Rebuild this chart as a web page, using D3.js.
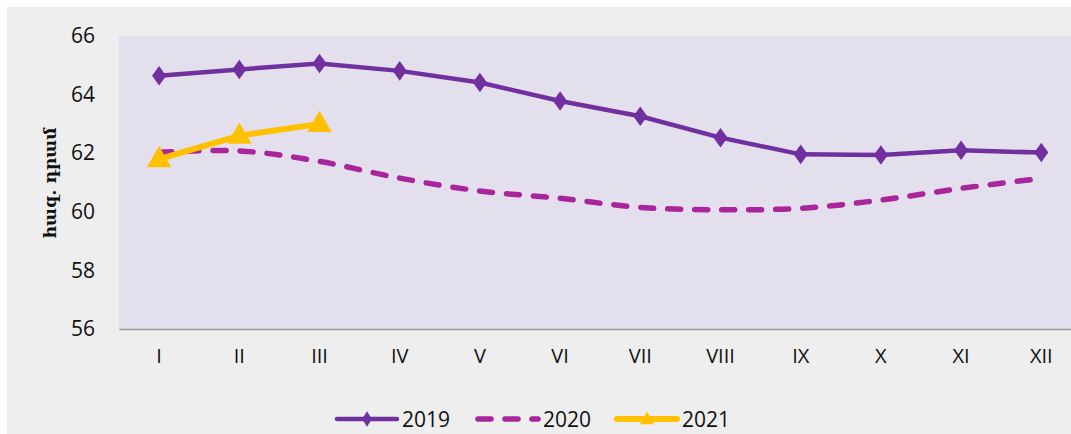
<!DOCTYPE html>
<html>
<head>
<meta charset="utf-8">
<script src="https://cdn.jsdelivr.net/npm/d3@7"></script>
<style>
  body { margin: 0; background: #ffffff; }
  svg text { font-family: "Open Sans", sans-serif; fill: #111; }
</style>
</head>
<body>
<div id="chart"></div>
<script>
// months (roman numerals) and values, thousand AMD
var months = ["I", "II", "III", "IV", "V", "VI", "VII", "VIII", "IX", "X", "XI", "XII"];
var values2019 = [64.64, 64.86, 65.06, 64.81, 64.41, 63.78, 63.26, 62.53, 61.96, 61.94, 62.1, 62.02];
var values2020 = [62.03, 62.08, 61.72, 61.15, 60.71, 60.46, 60.15, 60.07, 60.12, 60.4, 60.8, 61.14];
var values2021 = [61.8, 62.6, 63.0];
var yTicks = [56, 58, 60, 62, 64, 66];
var seriesNames = ["2019", "2020", "2021"];

var width = 1071, height = 434;
var svg = d3.select("#chart").append("svg")
    .attr("width", width)
    .attr("height", height);

// outer chart area
svg.append("rect")
    .attr("x", 7).attr("y", 7)
    .attr("width", width - 7).attr("height", height - 7)
    .attr("fill", "#eeeeee");

var plotLeft = 119, plotTop = 36, plotBottom = 329;
var plotRight = plotLeft + 12 * 80.2;

var x = d3.scaleBand().domain(months).range([plotLeft, plotRight]);
var y = d3.scaleLinear().domain([56, 66]).range([plotBottom, plotTop]);
function cx(m) { return x(m) + x.bandwidth() / 2; }

// plot area
svg.append("rect")
    .attr("x", plotLeft).attr("y", plotTop)
    .attr("width", plotRight - plotLeft).attr("height", plotBottom - plotTop)
    .attr("fill", "#e4dfec");

// y axis labels
var yAxis = svg.append("g")
    .attr("transform", "translate(" + plotLeft + ",0)")
    .call(d3.axisLeft(y).tickValues(yTicks).tickSize(0).tickPadding(24));
yAxis.select(".domain").remove();
yAxis.selectAll("text").style("font-size", "21px").style("font-family", "'Open Sans', sans-serif").attr("fill", "#111");

// x axis
var xAxis = svg.append("g")
    .attr("transform", "translate(0," + plotBottom + ")")
    .call(d3.axisBottom(x).tickSize(0).tickPadding(20));
xAxis.select(".domain").attr("stroke", "#999").attr("stroke-width", 1.5);
xAxis.selectAll("text").style("font-size", "20px").style("font-family", "'Open Sans', sans-serif").attr("fill", "#111");

// y axis title
svg.append("text")
    .attr("transform", "translate(50,183) rotate(-90)")
    .attr("text-anchor", "middle")
    .attr("dominant-baseline", "central")
    .style("font-family", "'DejaVu Serif', serif")
    .style("font-weight", "bold")
    .style("font-size", "17px")
    .text("հազ. դրամ");

var straight = d3.line()
    .x(function (d, i) { return cx(months[i]); })
    .y(function (d) { return y(d); });
var smooth = d3.line()
    .x(function (d, i) { return cx(months[i]); })
    .y(function (d) { return y(d); })
    .curve(d3.curveCatmullRom.alpha(0.5));

// 2020 dashed smooth
svg.append("path")
    .datum(values2020)
    .attr("d", smooth)
    .attr("fill", "none")
    .attr("stroke", "#a8259b")
    .attr("stroke-width", 5.5)
    .attr("stroke-linecap", "round")
    .attr("stroke-dasharray", "13,14");

// 2019 solid with diamonds
svg.append("path")
    .datum(values2019)
    .attr("d", straight)
    .attr("fill", "none")
    .attr("stroke", "#7030a0")
    .attr("stroke-width", 4.5);

var diamond = d3.symbol().type(d3.symbolDiamond).size(110);
svg.selectAll(".m2019")
    .data(values2019)
    .enter().append("path")
    .attr("class", "m2019")
    .attr("transform", function (d, i) { return "translate(" + cx(months[i]) + "," + y(d) + ") scale(1.25,1)"; })
    .attr("d", diamond)
    .attr("fill", "#7030a0");

// 2021 thick with triangles
svg.append("path")
    .datum(values2021)
    .attr("d", straight)
    .attr("fill", "none")
    .attr("stroke", "#ffc000")
    .attr("stroke-width", 6);

var triangle = d3.symbol().type(d3.symbolTriangle).size(260);
svg.selectAll(".m2021")
    .data(values2021)
    .enter().append("path")
    .attr("class", "m2021")
    .attr("transform", function (d, i) { return "translate(" + cx(months[i]) + "," + (y(d) + 1) + ")"; })
    .attr("d", triangle)
    .attr("fill", "#ffc000");

// legend
var legendItems = [
    { name: seriesNames[0], x: 335, color: "#7030a0", w: 4.5, dash: null, marker: "diamond" },
    { name: seriesNames[1], x: 476, color: "#a8259b", w: 5.5, dash: "13,14", marker: null },
    { name: seriesNames[2], x: 615, color: "#ffc000", w: 6, dash: null, marker: "triangle" }
];
var ly = 419;
var legend = svg.selectAll(".legend")
    .data(legendItems)
    .enter().append("g")
    .attr("class", "legend")
    .attr("transform", function (d) { return "translate(" + d.x + "," + ly + ")"; });

legend.append("line")
    .attr("x1", 2).attr("x2", 62)
    .attr("y1", 0).attr("y2", 0)
    .attr("stroke", function (d) { return d.color; })
    .attr("stroke-width", function (d) { return d.w; })
    .attr("stroke-linecap", "round")
    .attr("stroke-dasharray", function (d) { return d.dash; });

legend.filter(function (d) { return d.marker === "diamond"; })
    .append("path")
    .attr("transform", "translate(32,0) scale(1.1,1)")
    .attr("d", d3.symbol().type(d3.symbolDiamond).size(70))
    .attr("fill", function (d) { return d.color; });

legend.filter(function (d) { return d.marker === "triangle"; })
    .append("path")
    .attr("transform", "translate(32,1)")
    .attr("d", d3.symbol().type(d3.symbolTriangle).size(90))
    .attr("fill", function (d) { return d.color; });

legend.append("text")
    .attr("x", 67)
    .attr("y", 8)
    .style("font-size", "21px")
    .text(function (d) { return d.name; });
</script>
</body>
</html>
